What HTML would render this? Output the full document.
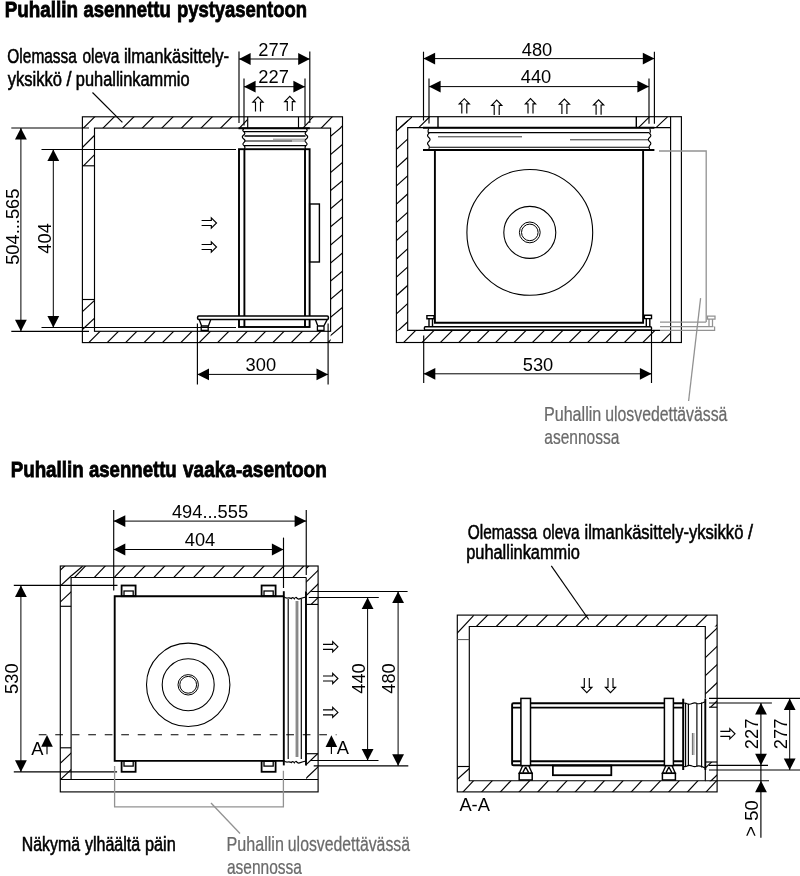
<!DOCTYPE html>
<html lang="fi"><head><meta charset="utf-8"><title>Puhallin asennus</title>
<style>
html,body{margin:0;padding:0;background:#fff;}
svg{display:block;font-family:"Liberation Sans",sans-serif;will-change:transform;}
</style></head><body>
<svg width="800" height="876" viewBox="0 0 800 876">
<rect x="0" y="0" width="800" height="876" fill="#fff"/>
<text transform="translate(4.74 16.5) scale(0.8380 1)" font-size="22.5" font-weight="bold" fill="#000" stroke="#000" stroke-width="0.8">Puhallin</text>
<text transform="translate(83.46 16.5) scale(0.8211 1)" font-size="22.5" font-weight="bold" fill="#000" stroke="#000" stroke-width="0.8">asennettu</text>
<text transform="translate(176.88 16.5) scale(0.8204 1)" font-size="22.5" font-weight="bold" fill="#000" stroke="#000" stroke-width="0.8">pystyasentoon</text>
<text transform="translate(10.64 477.2) scale(0.8356 1)" font-size="22.5" font-weight="bold" fill="#000" stroke="#000" stroke-width="0.8">Puhallin</text>
<text transform="translate(88.96 477.2) scale(0.8259 1)" font-size="22.5" font-weight="bold" fill="#000" stroke="#000" stroke-width="0.8">asennettu</text>
<text transform="translate(183.03 477.2) scale(0.8453 1)" font-size="22.5" font-weight="bold" fill="#000" stroke="#000" stroke-width="0.8">vaaka-asentoon</text>
<text transform="translate(7.37 63.1) scale(0.7881 1)" font-size="19.6" font-weight="normal" fill="#000" stroke="#000" stroke-width="0.55">Olemassa</text>
<text transform="translate(82.45 63.1) scale(0.7886 1)" font-size="19.6" font-weight="normal" fill="#000" stroke="#000" stroke-width="0.55">oleva</text>
<text transform="translate(123.89 63.1) scale(0.8485 1)" font-size="19.6" font-weight="normal" fill="#000" stroke="#000" stroke-width="0.55">ilmankäsittely-</text>
<text transform="translate(7.71 85.9) scale(0.8441 1)" font-size="19.6" font-weight="normal" fill="#000" stroke="#000" stroke-width="0.55">yksikkö</text>
<text transform="translate(66.60 85.9) scale(0.9182 1)" font-size="19.6" font-weight="normal" fill="#000" stroke="#000" stroke-width="0.55">/</text>
<text transform="translate(75.84 85.9) scale(0.8360 1)" font-size="19.6" font-weight="normal" fill="#000" stroke="#000" stroke-width="0.55">puhallinkammio</text>
<line x1="92.5" y1="92.5" x2="122.4" y2="122.4" stroke="#000" stroke-width="1.15" />
<rect x="82.4" y="116.8" width="260.1" height="225.8" stroke="#000" stroke-width="1.15" fill="none"/>
<rect x="94.5" y="128.1" width="236.10000000000002" height="203.20000000000002" stroke="#000" stroke-width="1.15" fill="none"/>
<clipPath id="c1"><rect x="82.4" y="116.8" width="157.0" height="11.299999999999997"/></clipPath>
<g clip-path="url(#c1)" stroke="#000" stroke-width="1.15">
<line x1="79.4" y1="132.1" x2="242.4" y2="-30.9"/>
<line x1="79.4" y1="151.7" x2="242.4" y2="-11.3"/>
<line x1="79.4" y1="171.3" x2="242.4" y2="8.3"/>
<line x1="79.4" y1="190.9" x2="242.4" y2="27.9"/>
<line x1="79.4" y1="210.5" x2="242.4" y2="47.5"/>
<line x1="79.4" y1="230.1" x2="242.4" y2="67.1"/>
<line x1="79.4" y1="249.7" x2="242.4" y2="86.7"/>
<line x1="79.4" y1="269.3" x2="242.4" y2="106.3"/>
<line x1="79.4" y1="288.9" x2="242.4" y2="125.9"/>
</g>
<clipPath id="c2"><rect x="309.8" y="116.8" width="32.69999999999999" height="11.299999999999997"/></clipPath>
<g clip-path="url(#c2)" stroke="#000" stroke-width="1.15">
<line x1="306.8" y1="123.3" x2="345.5" y2="83.5"/>
<line x1="306.8" y1="142.9" x2="345.5" y2="103.1"/>
<line x1="306.8" y1="162.5" x2="345.5" y2="122.7"/>
</g>
<clipPath id="c3"><rect x="330.6" y="128.1" width="11.899999999999977" height="214.50000000000003"/></clipPath>
<g clip-path="url(#c3)" stroke="#000" stroke-width="1.15">
<line x1="327.6" y1="138.8" x2="345.5" y2="123.8"/>
<line x1="327.6" y1="156.9" x2="345.5" y2="141.9"/>
<line x1="327.6" y1="175.0" x2="345.5" y2="160.0"/>
<line x1="327.6" y1="193.1" x2="345.5" y2="178.1"/>
<line x1="327.6" y1="211.2" x2="345.5" y2="196.2"/>
<line x1="327.6" y1="229.3" x2="345.5" y2="214.3"/>
<line x1="327.6" y1="247.4" x2="345.5" y2="232.4"/>
<line x1="327.6" y1="265.5" x2="345.5" y2="250.5"/>
<line x1="327.6" y1="283.6" x2="345.5" y2="268.6"/>
<line x1="327.6" y1="301.7" x2="345.5" y2="286.7"/>
<line x1="327.6" y1="319.8" x2="345.5" y2="304.8"/>
<line x1="327.6" y1="337.9" x2="345.5" y2="322.9"/>
<line x1="327.6" y1="356.0" x2="345.5" y2="341.0"/>
</g>
<clipPath id="c4"><rect x="82.4" y="331.3" width="248.20000000000002" height="11.300000000000011"/></clipPath>
<g clip-path="url(#c4)" stroke="#000" stroke-width="1.15">
<line x1="79.4" y1="333.6" x2="333.6" y2="79.4"/>
<line x1="79.4" y1="352.0" x2="333.6" y2="97.8"/>
<line x1="79.4" y1="370.4" x2="333.6" y2="116.2"/>
<line x1="79.4" y1="388.8" x2="333.6" y2="134.6"/>
<line x1="79.4" y1="407.2" x2="333.6" y2="153.0"/>
<line x1="79.4" y1="425.6" x2="333.6" y2="171.4"/>
<line x1="79.4" y1="444.0" x2="333.6" y2="189.8"/>
<line x1="79.4" y1="462.4" x2="333.6" y2="208.2"/>
<line x1="79.4" y1="480.8" x2="333.6" y2="226.6"/>
<line x1="79.4" y1="499.2" x2="333.6" y2="245.0"/>
<line x1="79.4" y1="517.6" x2="333.6" y2="263.4"/>
<line x1="79.4" y1="536.0" x2="333.6" y2="281.8"/>
<line x1="79.4" y1="554.4" x2="333.6" y2="300.2"/>
<line x1="79.4" y1="572.8" x2="333.6" y2="318.6"/>
<line x1="79.4" y1="591.2" x2="333.6" y2="337.0"/>
</g>
<clipPath id="c5"><rect x="82.4" y="128.1" width="12.099999999999994" height="37.70000000000002"/></clipPath>
<g clip-path="url(#c5)" stroke="#000" stroke-width="1.15">
<line x1="79.4" y1="131.1" x2="97.5" y2="113.0"/>
<line x1="79.4" y1="150.5" x2="97.5" y2="132.4"/>
<line x1="79.4" y1="169.9" x2="97.5" y2="151.8"/>
</g>
<line x1="82.4" y1="165.8" x2="94.5" y2="165.8" stroke="#000" stroke-width="1.15" />
<clipPath id="c6"><rect x="82.4" y="299.5" width="12.099999999999994" height="31.80000000000001"/></clipPath>
<g clip-path="url(#c6)" stroke="#000" stroke-width="1.15">
<line x1="79.4" y1="314.4" x2="97.5" y2="297.6"/>
<line x1="79.4" y1="332.3" x2="97.5" y2="315.5"/>
</g>
<line x1="82.4" y1="299.5" x2="94.5" y2="299.5" stroke="#000" stroke-width="1.15" />
<line x1="247.7" y1="116.8" x2="247.7" y2="128.1" stroke="#000" stroke-width="1.15" />
<line x1="298.5" y1="116.8" x2="298.5" y2="128.1" stroke="#000" stroke-width="1.15" />
<line x1="239.4" y1="128.1" x2="247.7" y2="119.3" stroke="#000" stroke-width="1.15" />
<line x1="303" y1="128.1" x2="309.8" y2="120.8" stroke="#000" stroke-width="1.15" />
<line x1="11.3" y1="128" x2="89" y2="128" stroke="#000" stroke-width="1.15" />
<line x1="11.3" y1="331.3" x2="89" y2="331.3" stroke="#000" stroke-width="1.15" />
<line x1="20.9" y1="128" x2="20.9" y2="331.3" stroke="#000" stroke-width="1" />
<polygon points="20.9,128.0 15.0,139.6 26.8,139.6" fill="#000"/>
<polygon points="20.9,331.3 15.0,319.7 26.8,319.7" fill="#000"/>
<line x1="41.5" y1="149.5" x2="236" y2="149.5" stroke="#000" stroke-width="1.15" />
<line x1="41.5" y1="327.5" x2="236" y2="327.5" stroke="#000" stroke-width="1.15" />
<line x1="53.3" y1="149.5" x2="53.3" y2="327.5" stroke="#000" stroke-width="1" />
<polygon points="53.3,149.5 47.4,161.1 59.2,161.1" fill="#000"/>
<polygon points="53.3,327.5 47.4,315.9 59.2,315.9" fill="#000"/>
<text transform="translate(18.8 226.7) rotate(-90)" font-size="18.3" text-anchor="middle" font-weight="normal" fill="#000" letter-spacing="0">504...565</text>
<text transform="translate(50.8 238.4) rotate(-90)" font-size="18.3" text-anchor="middle" font-weight="normal" fill="#000" letter-spacing="0">404</text>
<line x1="239" y1="51.5" x2="239" y2="123" stroke="#000" stroke-width="1.15" />
<line x1="309.8" y1="51.5" x2="309.8" y2="123" stroke="#000" stroke-width="1.15" />
<line x1="239" y1="59" x2="309.8" y2="59" stroke="#000" stroke-width="1" />
<polygon points="239.0,59.0 250.6,53.1 250.6,64.9" fill="#000"/>
<polygon points="309.8,59.0 298.2,53.1 298.2,64.9" fill="#000"/>
<line x1="244" y1="78.4" x2="244" y2="125.6" stroke="#000" stroke-width="1.15" />
<line x1="305" y1="78.4" x2="305" y2="125.6" stroke="#000" stroke-width="1.15" />
<line x1="244" y1="86.7" x2="305" y2="86.7" stroke="#000" stroke-width="1" />
<polygon points="244.0,86.7 255.6,80.8 255.6,92.6" fill="#000"/>
<polygon points="305.0,86.7 293.4,80.8 293.4,92.6" fill="#000"/>
<text transform="translate(273.6 55.8)" font-size="18.3" text-anchor="middle" font-weight="normal" fill="#000" letter-spacing="0">277</text>
<text transform="translate(273.6 83.4)" font-size="18.3" text-anchor="middle" font-weight="normal" fill="#000" letter-spacing="0">227</text>
<path d="M255.5,111.5 V102.10000000000001 H252.9 L258,96.9 L263.1,102.10000000000001 H260.5 V111.5" stroke="#000" stroke-width="1.15" fill="none" />
<path d="M287.3,111 V101.60000000000001 H284.7 L289.8,96.4 L294.90000000000003,101.60000000000001 H292.3 V111" stroke="#000" stroke-width="1.15" fill="none" />
<path d="M243.8,128.8 q-2,1.4 0,2.8 q2.2,1.8 -0.4,3.6 q-2.4,1.8 0.4,3.8 q2.4,1.8 0,3.6 q-2,1.6 0.6,3.4 q1,1.2 0,3 M306.2,128.8 q2,1.4 0,2.8 q-2.2,1.8 0.4,3.6 q2.4,1.8 -0.4,3.8 q-2.4,1.8 0,3.6 q2,1.6 -0.6,3.4 q-1,1.2 0,3" stroke="#000" stroke-width="1.2" fill="none" />
<line x1="238.5" y1="128.2" x2="309.8" y2="128.2" stroke="#000" stroke-width="1.9" />
<line x1="243.5" y1="131.6" x2="306.5" y2="131.6" stroke="#000" stroke-width="1.15" />
<line x1="244.5" y1="136" x2="305.5" y2="136" stroke="#000" stroke-width="1.4" />
<line x1="244.5" y1="141" x2="292" y2="141" stroke="#000" stroke-width="1.2" />
<line x1="292" y1="141" x2="305.5" y2="141" stroke="#777" stroke-width="1.0" />
<line x1="244" y1="145.6" x2="306" y2="145.6" stroke="#000" stroke-width="1.15" />
<line x1="273" y1="139.2" x2="305" y2="139.2" stroke="#888" stroke-width="1.0" />
<rect x="239" y="149.2" width="70.60000000000002" height="177.8" stroke="#000" stroke-width="1.9" fill="none"/>
<line x1="244.4" y1="149.2" x2="244.4" y2="327" stroke="#000" stroke-width="1.9" />
<line x1="305" y1="149.2" x2="305" y2="327" stroke="#000" stroke-width="1.9" />
<rect x="309.6" y="204" width="9.799999999999955" height="58" stroke="#000" stroke-width="1.4" fill="none"/>
<rect x="197.6" y="316" width="130.8" height="3.4" rx="1.2" stroke="#000" stroke-width="1.5" fill="#fff"/>
<path d="M199.2,319.6 L201.6,326 H208.4 L210.8,319.6 M201.2,326 V330.4 H208.2 V326" stroke="#000" stroke-width="1.3" fill="none" />
<path d="M315.4,319.6 L317.8,326 H323.8 L327.2,319.6 M317.4,326 V330.4 H324 V326" stroke="#000" stroke-width="1.3" fill="none" />
<line x1="328.1" y1="323.4" x2="328.1" y2="384.6" stroke="#000" stroke-width="1.15" />
<line x1="197.4" y1="323.4" x2="197.4" y2="384.6" stroke="#000" stroke-width="1.15" />
<line x1="197.4" y1="374.4" x2="328.1" y2="374.4" stroke="#000" stroke-width="1" />
<polygon points="197.4,374.4 209.0,368.5 209.0,380.3" fill="#000"/>
<polygon points="328.1,374.4 316.5,368.5 316.5,380.3" fill="#000"/>
<text transform="translate(260.8 371.3)" font-size="18.3" text-anchor="middle" font-weight="normal" fill="#000" letter-spacing="0">300</text>
<path d="M201.6,220.5 H211.3 V217.9 L216.5,223 L211.3,228.1 V225.5 H201.6" stroke="#000" stroke-width="1.15" fill="none" stroke-linejoin="miter"/>
<path d="M201.6,244.5 H211.3 V241.9 L216.5,247 L211.3,252.1 V249.5 H201.6" stroke="#000" stroke-width="1.15" fill="none" stroke-linejoin="miter"/>
<rect x="396.4" y="116.7" width="285.0" height="225.8" stroke="#000" stroke-width="1.15" fill="none"/>
<path d="M660,330.3 H407.7 V127.6 H670.6 M670.6,116.7 V342.5" stroke="#000" stroke-width="1.15" fill="none" />
<clipPath id="c7"><rect x="396.4" y="117.0" width="11.300000000000011" height="213.3"/></clipPath>
<g clip-path="url(#c7)" stroke="#000" stroke-width="1.15">
<line x1="393.4" y1="115.4" x2="410.7" y2="99.8"/>
<line x1="393.4" y1="133.7" x2="410.7" y2="118.1"/>
<line x1="393.4" y1="152.0" x2="410.7" y2="136.4"/>
<line x1="393.4" y1="170.3" x2="410.7" y2="154.7"/>
<line x1="393.4" y1="188.5" x2="410.7" y2="173.0"/>
<line x1="393.4" y1="206.8" x2="410.7" y2="191.2"/>
<line x1="393.4" y1="225.1" x2="410.7" y2="209.5"/>
<line x1="393.4" y1="243.4" x2="410.7" y2="227.8"/>
<line x1="393.4" y1="261.7" x2="410.7" y2="246.1"/>
<line x1="393.4" y1="279.9" x2="410.7" y2="264.4"/>
<line x1="393.4" y1="298.2" x2="410.7" y2="282.7"/>
<line x1="393.4" y1="316.5" x2="410.7" y2="300.9"/>
<line x1="393.4" y1="334.8" x2="410.7" y2="319.2"/>
</g>
<clipPath id="c8"><rect x="396.4" y="116.7" width="15.600000000000023" height="10.899999999999991"/></clipPath>
<g clip-path="url(#c8)" stroke="#000" stroke-width="1.15">
<line x1="393.4" y1="115.4" x2="415.0" y2="96.0"/>
<line x1="393.4" y1="133.7" x2="415.0" y2="114.3"/>
</g>
<clipPath id="c9"><rect x="396.4" y="330.3" width="274.20000000000005" height="12.199999999999989"/></clipPath>
<g clip-path="url(#c9)" stroke="#000" stroke-width="1.15">
<line x1="393.4" y1="334.3" x2="673.6" y2="54.1"/>
<line x1="393.4" y1="352.7" x2="673.6" y2="72.5"/>
<line x1="393.4" y1="371.1" x2="673.6" y2="90.9"/>
<line x1="393.4" y1="389.5" x2="673.6" y2="109.3"/>
<line x1="393.4" y1="407.9" x2="673.6" y2="127.7"/>
<line x1="393.4" y1="426.3" x2="673.6" y2="146.1"/>
<line x1="393.4" y1="444.7" x2="673.6" y2="164.5"/>
<line x1="393.4" y1="463.1" x2="673.6" y2="182.9"/>
<line x1="393.4" y1="481.5" x2="673.6" y2="201.3"/>
<line x1="393.4" y1="499.9" x2="673.6" y2="219.7"/>
<line x1="393.4" y1="518.3" x2="673.6" y2="238.1"/>
<line x1="393.4" y1="536.7" x2="673.6" y2="256.5"/>
<line x1="393.4" y1="555.1" x2="673.6" y2="274.9"/>
<line x1="393.4" y1="573.5" x2="673.6" y2="293.3"/>
<line x1="393.4" y1="591.9" x2="673.6" y2="311.7"/>
<line x1="393.4" y1="610.3" x2="673.6" y2="330.1"/>
</g>
<line x1="438" y1="116.7" x2="438" y2="127.6" stroke="#000" stroke-width="1.4" />
<line x1="636.3" y1="116.7" x2="636.3" y2="127.6" stroke="#000" stroke-width="1.4" />
<line x1="419" y1="127.3" x2="429.5" y2="117" stroke="#000" stroke-width="1.15" />
<line x1="638.8" y1="127.3" x2="649.4" y2="116.9" stroke="#000" stroke-width="1.15" />
<line x1="656.3" y1="127.3" x2="667.5" y2="116.9" stroke="#000" stroke-width="1.15" />
<line x1="423.5" y1="51.7" x2="423.5" y2="120.5" stroke="#000" stroke-width="1.15" />
<line x1="654.4" y1="51.7" x2="654.4" y2="123.8" stroke="#000" stroke-width="1.15" />
<line x1="423.5" y1="58.6" x2="654.4" y2="58.6" stroke="#000" stroke-width="1" />
<polygon points="423.5,58.6 435.1,52.7 435.1,64.5" fill="#000"/>
<polygon points="654.4,58.6 642.8,52.7 642.8,64.5" fill="#000"/>
<line x1="429" y1="78.4" x2="429" y2="123.5" stroke="#000" stroke-width="1.15" />
<line x1="649" y1="78.4" x2="649" y2="123.8" stroke="#000" stroke-width="1.15" />
<line x1="429" y1="86.6" x2="649" y2="86.6" stroke="#000" stroke-width="1" />
<polygon points="429.0,86.6 440.6,80.7 440.6,92.5" fill="#000"/>
<polygon points="649.0,86.6 637.4,80.7 637.4,92.5" fill="#000"/>
<text transform="translate(537 55.5)" font-size="18.3" text-anchor="middle" font-weight="normal" fill="#000" letter-spacing="0">480</text>
<text transform="translate(536 83.2)" font-size="18.3" text-anchor="middle" font-weight="normal" fill="#000" letter-spacing="0">440</text>
<path d="M461.8,113.6 V103.89999999999999 H459.2 L464.3,98.69999999999999 L469.40000000000003,103.89999999999999 H466.8 V113.6" stroke="#000" stroke-width="1.15" fill="none" />
<path d="M494.2,115 V105.3 H491.59999999999997 L496.7,100.1 L501.8,105.3 H499.2 V115" stroke="#000" stroke-width="1.15" fill="none" />
<path d="M528.0,113.5 V103.8 H525.4 L530.5,98.6 L535.6,103.8 H533.0 V113.5" stroke="#000" stroke-width="1.15" fill="none" />
<path d="M561.9,113.9 V104.2 H559.3 L564.4,99.0 L569.5,104.2 H566.9 V113.9" stroke="#000" stroke-width="1.15" fill="none" />
<path d="M596.1,114.7 V105.0 H593.5 L598.6,99.8 L603.7,105.0 H601.1 V114.7" stroke="#000" stroke-width="1.15" fill="none" />
<line x1="423" y1="127.8" x2="654.4" y2="127.8" stroke="#000" stroke-width="1.9" />
<line x1="428.5" y1="132.6" x2="649" y2="132.6" stroke="#000" stroke-width="1.15" />
<line x1="429.5" y1="147.2" x2="649" y2="147.2" stroke="#000" stroke-width="1.15" />
<line x1="438" y1="136.8" x2="522" y2="136.8" stroke="#333" stroke-width="1" />
<line x1="570" y1="139.8" x2="648" y2="139.8" stroke="#333" stroke-width="1" />
<path d="M428.8,128.5 q-1.5,2.5 0,5 q-2.5,2 0,4 q2.5,2 0,4 q-2.5,2 0,4 q1,1.5 0,3.5 M649.6,128.5 q1.5,2.5 0,5 q2.5,2 0,4 q-2.5,2 0,4 q2.5,2 0,4 q-1,1.5 0,3.5" stroke="#000" stroke-width="1.15" fill="none" />
<line x1="423" y1="149.9" x2="654.4" y2="149.9" stroke="#000" stroke-width="2" />
<path d="M434.9,150 V322.8 H643.1 V150" stroke="#000" stroke-width="1.9" fill="none" />
<rect x="424.4" y="326.7" width="227.1" height="3.2" rx="1" stroke="#000" stroke-width="1.4" fill="#fff"/>
<path d="M426.9,315.6 H434 V318.8 H426.9 Z M429,318.8 V326.3 M432.5,318.8 V326.3" stroke="#000" stroke-width="1.4" fill="none" />
<path d="M644.4,315.3 H651.5 V318.6 H644.4 Z M646.3,318.6 V326.3 M649.8,318.6 V326.3" stroke="#000" stroke-width="1.4" fill="none" />
<circle cx="529.8" cy="232.4" r="62.9" stroke="#000" stroke-width="1.1" fill="none"/>
<circle cx="529.8" cy="232.4" r="26.0" stroke="#000" stroke-width="1.1" fill="none"/>
<circle cx="529.8" cy="232.4" r="10.4" stroke="#000" stroke-width="1.0" fill="none"/>
<circle cx="529.8" cy="232.4" r="8.3" stroke="#000" stroke-width="1.0" fill="none"/>
<line x1="423.7" y1="335.6" x2="423.7" y2="383" stroke="#000" stroke-width="1.15" />
<line x1="651.5" y1="331" x2="651.5" y2="383" stroke="#000" stroke-width="1.15" />
<line x1="423.7" y1="373.8" x2="651.5" y2="373.8" stroke="#000" stroke-width="1" />
<polygon points="423.7,373.8 435.3,367.9 435.3,379.7" fill="#000"/>
<polygon points="651.5,373.8 639.9,367.9 639.9,379.7" fill="#000"/>
<text transform="translate(538 370.5)" font-size="18.3" text-anchor="middle" font-weight="normal" fill="#000" letter-spacing="0">530</text>
<path d="M659,151 H706.2 V322" stroke="#929292" stroke-width="1.3" fill="none" />
<path d="M660,322.1 H706.2 M660,326.6 H713.5 M660,330.3 H714.6 V326.6 M707.5,316 H715 V319.2 H707.5 Z M709,319.2 V326.4 M712.5,319.2 V326.4" stroke="#929292" stroke-width="1.25" fill="none" />
<line x1="700.6" y1="298.1" x2="688.6" y2="401" stroke="#929292" stroke-width="1.3" />
<text transform="translate(543.93 421.0) scale(0.8226 1)" font-size="19.6" font-weight="normal" fill="#6a6a6a" stroke="#6a6a6a" stroke-width="0.25">Puhallin</text>
<text transform="translate(605.22 421.0) scale(0.8074 1)" font-size="19.6" font-weight="normal" fill="#6a6a6a" stroke="#6a6a6a" stroke-width="0.25">ulosvedettävässä</text>
<text transform="translate(544.34 443.5) scale(0.7917 1)" font-size="19.6" font-weight="normal" fill="#6a6a6a" stroke="#6a6a6a" stroke-width="0.25">asennossa</text>
<rect x="60.3" y="566" width="257.8" height="225.89999999999998" stroke="#000" stroke-width="1.15" fill="none"/>
<path d="M71.1,779.5 V577.5 H306.2 M60.3,779.5 H318.1" stroke="#000" stroke-width="1.15" fill="none" />
<clipPath id="c10"><rect x="71.1" y="566" width="235.1" height="11.5"/></clipPath>
<g clip-path="url(#c10)" stroke="#000" stroke-width="1.15">
<line x1="68.1" y1="584.2" x2="309.2" y2="331.0"/>
<line x1="68.1" y1="605.0" x2="309.2" y2="351.9"/>
<line x1="68.1" y1="625.9" x2="309.2" y2="372.7"/>
<line x1="68.1" y1="646.7" x2="309.2" y2="393.5"/>
<line x1="68.1" y1="667.5" x2="309.2" y2="414.4"/>
<line x1="68.1" y1="688.4" x2="309.2" y2="435.2"/>
<line x1="68.1" y1="709.2" x2="309.2" y2="456.1"/>
<line x1="68.1" y1="730.1" x2="309.2" y2="476.9"/>
<line x1="68.1" y1="750.9" x2="309.2" y2="497.8"/>
<line x1="68.1" y1="771.8" x2="309.2" y2="518.6"/>
<line x1="68.1" y1="792.6" x2="309.2" y2="539.4"/>
<line x1="68.1" y1="813.4" x2="309.2" y2="560.3"/>
</g>
<clipPath id="c11"><rect x="60.3" y="566" width="10.799999999999997" height="40.299999999999955"/></clipPath>
<g clip-path="url(#c11)" stroke="#000" stroke-width="1.15">
<line x1="57.3" y1="572.9" x2="74.1" y2="557.3"/>
<line x1="57.3" y1="588.8" x2="74.1" y2="573.2"/>
<line x1="57.3" y1="604.7" x2="74.1" y2="589.1"/>
<line x1="57.3" y1="620.6" x2="74.1" y2="605.0"/>
</g>
<line x1="60.3" y1="606.3" x2="71.1" y2="606.3" stroke="#000" stroke-width="1.15" />
<line x1="71.1" y1="576" x2="82.6" y2="566.2" stroke="#000" stroke-width="1.15" />
<clipPath id="c12"><rect x="60.3" y="747.8" width="10.799999999999997" height="31.700000000000045"/></clipPath>
<g clip-path="url(#c12)" stroke="#000" stroke-width="1.15">
<line x1="57.3" y1="749.6" x2="74.1" y2="733.8"/>
<line x1="57.3" y1="766.1" x2="74.1" y2="750.3"/>
<line x1="57.3" y1="782.5" x2="74.1" y2="766.7"/>
</g>
<line x1="60.3" y1="747.8" x2="71.1" y2="747.8" stroke="#000" stroke-width="1.15" />
<clipPath id="c13"><rect x="306.2" y="566" width="11.900000000000034" height="38.39999999999998"/></clipPath>
<g clip-path="url(#c13)" stroke="#000" stroke-width="1.15">
<line x1="303.2" y1="571.3" x2="321.1" y2="553.9"/>
<line x1="303.2" y1="584.9" x2="321.1" y2="567.5"/>
<line x1="303.2" y1="598.5" x2="321.1" y2="581.1"/>
<line x1="303.2" y1="612.1" x2="321.1" y2="594.7"/>
</g>
<line x1="306.2" y1="604.4" x2="318.1" y2="604.4" stroke="#000" stroke-width="1.15" />
<clipPath id="c14"><rect x="306.2" y="753.7" width="11.900000000000034" height="25.799999999999955"/></clipPath>
<g clip-path="url(#c14)" stroke="#000" stroke-width="1.15">
<line x1="303.2" y1="753.8" x2="321.1" y2="736.8"/>
<line x1="303.2" y1="767.4" x2="321.1" y2="750.4"/>
<line x1="303.2" y1="781.0" x2="321.1" y2="764.0"/>
<line x1="303.2" y1="794.6" x2="321.1" y2="777.6"/>
</g>
<line x1="306.2" y1="753.7" x2="318.1" y2="753.7" stroke="#000" stroke-width="1.15" />
<line x1="306.2" y1="577.5" x2="306.2" y2="591" stroke="#000" stroke-width="1.15" />
<line x1="113.7" y1="510" x2="113.7" y2="590.6" stroke="#000" stroke-width="1.15" />
<line x1="306.25" y1="510" x2="306.25" y2="575" stroke="#000" stroke-width="1.15" />
<line x1="283.5" y1="537.6" x2="283.5" y2="588" stroke="#000" stroke-width="1.15" />
<line x1="113.7" y1="521.1" x2="306.25" y2="521.1" stroke="#000" stroke-width="1" />
<polygon points="113.7,521.1 125.3,515.2 125.3,527.0" fill="#000"/>
<polygon points="306.2,521.1 294.6,515.2 294.6,527.0" fill="#000"/>
<line x1="113.7" y1="549.5" x2="283.5" y2="549.5" stroke="#000" stroke-width="1" />
<polygon points="113.7,549.5 125.3,543.6 125.3,555.4" fill="#000"/>
<polygon points="283.5,549.5 271.9,543.6 271.9,555.4" fill="#000"/>
<text transform="translate(210 518)" font-size="18.3" text-anchor="middle" font-weight="normal" fill="#000" letter-spacing="0">494...555</text>
<text transform="translate(200 546.3)" font-size="18.3" text-anchor="middle" font-weight="normal" fill="#000" letter-spacing="0">404</text>
<path d="M283.6,596.25 H114.7 V760.9 H283.6" stroke="#000" stroke-width="1.9" fill="none" />
<rect x="121.6" y="585.5" width="14.0" height="10.700000000000045" stroke="#000" stroke-width="1.8" fill="none"/>
<rect x="124.0" y="591" width="9.199999999999989" height="5.2000000000000455" stroke="#000" stroke-width="1.3" fill="none"/>
<rect x="121.6" y="760.9" width="14.0" height="10.899999999999977" stroke="#000" stroke-width="1.8" fill="none"/>
<rect x="124.0" y="760.9" width="9.199999999999989" height="5.2000000000000455" stroke="#000" stroke-width="1.3" fill="none"/>
<rect x="261.6" y="585.5" width="14.0" height="10.700000000000045" stroke="#000" stroke-width="1.8" fill="none"/>
<rect x="264.0" y="591" width="9.200000000000045" height="5.2000000000000455" stroke="#000" stroke-width="1.3" fill="none"/>
<rect x="261.6" y="760.9" width="14.0" height="10.899999999999977" stroke="#000" stroke-width="1.8" fill="none"/>
<rect x="264.0" y="760.9" width="9.200000000000045" height="5.2000000000000455" stroke="#000" stroke-width="1.3" fill="none"/>
<circle cx="188.2" cy="684.8" r="41.7" stroke="#000" stroke-width="1.1" fill="none"/>
<circle cx="188.2" cy="684.8" r="26.0" stroke="#000" stroke-width="1.1" fill="none"/>
<circle cx="188.2" cy="684.8" r="10.2" stroke="#000" stroke-width="1.0" fill="none"/>
<circle cx="188.2" cy="684.8" r="8.4" stroke="#000" stroke-width="1.0" fill="none"/>
<line x1="283.8" y1="591.2" x2="283.8" y2="765.4" stroke="#000" stroke-width="1.9" />
<line x1="306.0" y1="591.2" x2="306.0" y2="765.4" stroke="#000" stroke-width="1.9" />
<line x1="288.2" y1="599" x2="288.2" y2="759" stroke="#000" stroke-width="1.15" />
<line x1="296.2" y1="601" x2="296.2" y2="757" stroke="#444" stroke-width="0.9" />
<line x1="297.8" y1="601" x2="297.8" y2="757" stroke="#444" stroke-width="0.9" />
<line x1="301.3" y1="599" x2="301.3" y2="759" stroke="#000" stroke-width="1.15" />
<path d="M283.8,596.6 q2,1.8 4,1.4 q2,-0.4 3.5,0.6 q1.5,-2 3,0.2 q1.5,-2.6 3,-0.2 q1.5,1 3,0 q2.5,-0.8 5.7,-1.6" stroke="#000" stroke-width="1.15" fill="none" />
<path d="M283.8,760.6 q2,1.8 4,1.4 q2,-0.4 3.5,0.6 q1.5,-2 3,0.2 q1.5,-2.6 3,-0.2 q1.5,1 3,0 q2.5,-0.8 5.7,-1.6" stroke="#000" stroke-width="1.15" fill="none" />
<line x1="311.2" y1="591.5" x2="407.6" y2="591.5" stroke="#000" stroke-width="1.15" />
<line x1="308.8" y1="597.5" x2="378.8" y2="597.5" stroke="#000" stroke-width="1.15" />
<line x1="310.5" y1="760.5" x2="378.5" y2="760.5" stroke="#000" stroke-width="1.15" />
<line x1="313.7" y1="765.8" x2="408.3" y2="765.8" stroke="#000" stroke-width="1.15" />
<line x1="367.6" y1="597.5" x2="367.6" y2="760.5" stroke="#000" stroke-width="1" />
<polygon points="367.6,597.5 361.7,609.1 373.5,609.1" fill="#000"/>
<polygon points="367.6,760.5 361.7,748.9 373.5,748.9" fill="#000"/>
<line x1="398.1" y1="591.5" x2="398.1" y2="765.8" stroke="#000" stroke-width="1" />
<polygon points="398.1,591.5 392.2,603.1 404.0,603.1" fill="#000"/>
<polygon points="398.1,765.8 392.2,754.2 404.0,754.2" fill="#000"/>
<text transform="translate(364.5 678.5) rotate(-90)" font-size="18.3" text-anchor="middle" font-weight="normal" fill="#000" letter-spacing="0">440</text>
<text transform="translate(394.7 678.5) rotate(-90)" font-size="18.3" text-anchor="middle" font-weight="normal" fill="#000" letter-spacing="0">480</text>
<path d="M323,644.3 H332.7 V641.6999999999999 L337.9,646.8 L332.7,651.9 V649.3 H323" stroke="#000" stroke-width="1.15" fill="none" stroke-linejoin="miter"/>
<path d="M323,676.0 H332.7 V673.4 L337.9,678.5 L332.7,683.6 V681.0 H323" stroke="#000" stroke-width="1.15" fill="none" stroke-linejoin="miter"/>
<path d="M323,709.9 H332.7 V707.3 L337.9,712.4 L332.7,717.5 V714.9 H323" stroke="#000" stroke-width="1.15" fill="none" stroke-linejoin="miter"/>
<line x1="38.75" y1="734.7" x2="336.5" y2="734.7" stroke="#000" stroke-width="1.15" stroke-dasharray="7.7 8.8"/>
<line x1="47" y1="740" x2="47" y2="754.3" stroke="#000" stroke-width="1.15" />
<polygon points="47.0,735.1 41.2,746.7 52.8,746.7" fill="#000"/>
<line x1="331.4" y1="740" x2="331.4" y2="753.9" stroke="#000" stroke-width="1.15" />
<polygon points="331.4,735.3 325.6,746.9 337.2,746.9" fill="#000"/>
<text transform="translate(31.3 754.7)" font-size="18.3" text-anchor="start" font-weight="normal" fill="#000" letter-spacing="0">A</text>
<text transform="translate(336.7 754.2)" font-size="18.3" text-anchor="start" font-weight="normal" fill="#000" letter-spacing="0">A</text>
<line x1="13.8" y1="585.4" x2="117.5" y2="585.4" stroke="#000" stroke-width="1.15" />
<line x1="13.8" y1="771.9" x2="117.1" y2="771.9" stroke="#000" stroke-width="1.15" />
<line x1="20.9" y1="585.4" x2="20.9" y2="771.9" stroke="#000" stroke-width="1" />
<polygon points="20.9,585.4 15.0,597.0 26.8,597.0" fill="#000"/>
<polygon points="20.9,771.9 15.0,760.3 26.8,760.3" fill="#000"/>
<text transform="translate(17.9 678.7) rotate(-90)" font-size="18.3" text-anchor="middle" font-weight="normal" fill="#000" letter-spacing="0">530</text>
<path d="M114.6,766.1 V806.9 H283.4 V770.7" stroke="#929292" stroke-width="1.3" fill="none" />
<line x1="211" y1="803" x2="240" y2="833.5" stroke="#929292" stroke-width="1.3" />
<text transform="translate(226.53 851.2) scale(0.8226 1)" font-size="19.6" font-weight="normal" fill="#6a6a6a" stroke="#6a6a6a" stroke-width="0.25">Puhallin</text>
<text transform="translate(287.82 851.2) scale(0.8074 1)" font-size="19.6" font-weight="normal" fill="#6a6a6a" stroke="#6a6a6a" stroke-width="0.25">ulosvedettävässä</text>
<text transform="translate(226.94 873.7) scale(0.7917 1)" font-size="19.6" font-weight="normal" fill="#6a6a6a" stroke="#6a6a6a" stroke-width="0.25">asennossa</text>
<text transform="translate(21.80 850.7) scale(0.8097 1)" font-size="19.6" font-weight="normal" fill="#000" stroke="#000" stroke-width="0.55">Näkymä</text>
<text transform="translate(84.96 850.7) scale(0.8184 1)" font-size="19.6" font-weight="normal" fill="#000" stroke="#000" stroke-width="0.55">ylhäältä</text>
<text transform="translate(144.95 850.7) scale(0.8328 1)" font-size="19.6" font-weight="normal" fill="#000" stroke="#000" stroke-width="0.55">päin</text>
<text transform="translate(467.77 538.5) scale(0.7869 1)" font-size="19.6" font-weight="normal" fill="#000" stroke="#000" stroke-width="0.55">Olemassa</text>
<text transform="translate(542.65 538.5) scale(0.7864 1)" font-size="19.6" font-weight="normal" fill="#000" stroke="#000" stroke-width="0.55">oleva</text>
<text transform="translate(584.50 538.5) scale(0.8419 1)" font-size="19.6" font-weight="normal" fill="#000" stroke="#000" stroke-width="0.55">ilmankäsittely-</text>
<text transform="translate(688.96 538.5) scale(0.8480 1)" font-size="19.6" font-weight="normal" fill="#000" stroke="#000" stroke-width="0.55">yksikkö</text>
<text transform="translate(748.10 538.5) scale(0.9182 1)" font-size="19.6" font-weight="normal" fill="#000" stroke="#000" stroke-width="0.55">/</text>
<text transform="translate(466.19 558.7) scale(0.8364 1)" font-size="19.6" font-weight="normal" fill="#000" stroke="#000" stroke-width="0.55">puhallinkammio</text>
<line x1="551.3" y1="565.9" x2="588.7" y2="619.5" stroke="#000" stroke-width="1.15" />
<rect x="457.3" y="615.1" width="259.8" height="176.79999999999995" stroke="#000" stroke-width="1.15" fill="none"/>
<path d="M705.3,698.5 V626.5 H469.3 V780.7 H705.3 V770" stroke="#000" stroke-width="1.15" fill="none" />
<clipPath id="c15"><rect x="469.3" y="615.1" width="247.8" height="11.399999999999977"/></clipPath>
<g clip-path="url(#c15)" stroke="#000" stroke-width="1.15">
<line x1="466.3" y1="616.5" x2="720.1" y2="362.7"/>
<line x1="466.3" y1="636.5" x2="720.1" y2="382.7"/>
<line x1="466.3" y1="656.4" x2="720.1" y2="402.6"/>
<line x1="466.3" y1="676.4" x2="720.1" y2="422.6"/>
<line x1="466.3" y1="696.3" x2="720.1" y2="442.5"/>
<line x1="466.3" y1="716.2" x2="720.1" y2="462.4"/>
<line x1="466.3" y1="736.2" x2="720.1" y2="482.4"/>
<line x1="466.3" y1="756.2" x2="720.1" y2="502.4"/>
<line x1="466.3" y1="776.1" x2="720.1" y2="522.3"/>
<line x1="466.3" y1="796.1" x2="720.1" y2="542.2"/>
<line x1="466.3" y1="816.0" x2="720.1" y2="562.2"/>
<line x1="466.3" y1="836.0" x2="720.1" y2="582.2"/>
<line x1="466.3" y1="855.9" x2="720.1" y2="602.1"/>
<line x1="466.3" y1="875.9" x2="720.1" y2="622.0"/>
</g>
<clipPath id="c16"><rect x="457.3" y="615.1" width="16.5" height="18.899999999999977"/></clipPath>
<g clip-path="url(#c16)" stroke="#000" stroke-width="1.15">
<line x1="454.3" y1="636.3" x2="476.8" y2="612.2"/>
</g>
<clipPath id="c17"><rect x="457.3" y="780.7" width="259.8" height="11.199999999999932"/></clipPath>
<g clip-path="url(#c17)" stroke="#000" stroke-width="1.15">
<line x1="454.3" y1="781.3" x2="720.1" y2="496.9"/>
<line x1="454.3" y1="801.3" x2="720.1" y2="516.9"/>
<line x1="454.3" y1="821.3" x2="720.1" y2="536.9"/>
<line x1="454.3" y1="841.3" x2="720.1" y2="556.9"/>
<line x1="454.3" y1="861.3" x2="720.1" y2="576.9"/>
<line x1="454.3" y1="881.3" x2="720.1" y2="596.9"/>
<line x1="454.3" y1="901.3" x2="720.1" y2="616.9"/>
<line x1="454.3" y1="921.3" x2="720.1" y2="636.9"/>
<line x1="454.3" y1="941.3" x2="720.1" y2="656.9"/>
<line x1="454.3" y1="961.3" x2="720.1" y2="676.9"/>
<line x1="454.3" y1="981.3" x2="720.1" y2="696.9"/>
<line x1="454.3" y1="1001.4" x2="720.1" y2="717.0"/>
<line x1="454.3" y1="1021.4" x2="720.1" y2="737.0"/>
<line x1="454.3" y1="1041.4" x2="720.1" y2="757.0"/>
<line x1="454.3" y1="1061.4" x2="720.1" y2="777.0"/>
</g>
<line x1="457.3" y1="639.6" x2="469.3" y2="639.6" stroke="#555" stroke-width="1" />
<clipPath id="c18"><rect x="457.3" y="766.5" width="12.0" height="14.200000000000045"/></clipPath>
<g clip-path="url(#c18)" stroke="#000" stroke-width="1.15">
<line x1="454.3" y1="782.0" x2="472.3" y2="765.8"/>
</g>
<line x1="457.3" y1="766.5" x2="469.3" y2="766.5" stroke="#000" stroke-width="1.15" />
<clipPath id="c19"><rect x="705.3" y="626.5" width="11.800000000000068" height="80.70000000000005"/></clipPath>
<g clip-path="url(#c19)" stroke="#000" stroke-width="1.15">
<line x1="702.3" y1="642.2" x2="720.1" y2="625.3"/>
<line x1="702.3" y1="660.5" x2="720.1" y2="643.5"/>
<line x1="702.3" y1="678.6" x2="720.1" y2="661.7"/>
<line x1="702.3" y1="696.9" x2="720.1" y2="679.9"/>
<line x1="702.3" y1="715.1" x2="720.1" y2="698.1"/>
</g>
<line x1="709" y1="707.2" x2="717.1" y2="707.2" stroke="#000" stroke-width="1.15" />
<clipPath id="c20"><rect x="705.3" y="762" width="11.800000000000068" height="19.200000000000045"/></clipPath>
<g clip-path="url(#c20)" stroke="#000" stroke-width="1.15">
<line x1="702.3" y1="770.9" x2="720.1" y2="753.9"/>
<line x1="702.3" y1="789.1" x2="720.1" y2="772.1"/>
</g>
<line x1="706" y1="762" x2="717.1" y2="762" stroke="#000" stroke-width="1.15" />
<path d="M683,703.2 H513.5 Q512.1,703.2 512.1,704.6 V763.9 Q512.1,765.3 513.5,765.3 H683 M512.1,707.6 H683 M512.1,761.2 H683" stroke="#000" stroke-width="1.9" fill="none" />
<line x1="683.2" y1="698.7" x2="683.2" y2="770" stroke="#000" stroke-width="2" />
<line x1="705.3" y1="698.7" x2="705.3" y2="770" stroke="#000" stroke-width="1.9" />
<rect x="520.9" y="698.4" width="9.600000000000023" height="67.20000000000005" stroke="#000" stroke-width="1.5" fill="#fff"/>
<path d="M522.4999999999999,766 L519.3,773.3 H532.0999999999999 L528.9,766 M525.6999999999999,767 L522.9,772.3 M525.6999999999999,767 L528.4999999999999,772.3" stroke="#000" stroke-width="1.4" fill="none" />
<rect x="519.1999999999999" y="773.3" width="13.0" height="6.7000000000000455" stroke="#000" stroke-width="1.5" fill="none"/>
<rect x="664.4" y="698.4" width="9.0" height="67.20000000000005" stroke="#000" stroke-width="1.5" fill="#fff"/>
<path d="M665.6999999999999,766 L662.5,773.3 H675.3 L672.1,766 M668.9,767 L666.1,772.3 M668.9,767 L671.6999999999999,772.3" stroke="#000" stroke-width="1.4" fill="none" />
<rect x="662.4" y="773.3" width="13.0" height="6.7000000000000455" stroke="#000" stroke-width="1.5" fill="none"/>
<rect x="552.9" y="765.6" width="58.39999999999998" height="9.600000000000023" stroke="#000" stroke-width="1.8" fill="none"/>
<path d="M584.3,678 V687.4 H581.6999999999999 L586.8,692.6 L591.9,687.4 H589.3 V678" stroke="#000" stroke-width="1.15" fill="none" />
<path d="M608.0,678 V687.4 H605.4 L610.5,692.6 L615.6,687.4 H613.0 V678" stroke="#000" stroke-width="1.15" fill="none" />
<path d="M683.2,703.4 q2,-0.9 4,0.3 q2.5,1.1 5,-0.2 q2.5,-1.2 5,0 q3,0.9 7.8,-1.8 M683.2,766.2 q2,0.9 4,-0.3 q2.5,-1.1 5,0.2 q2.5,1.2 5,0 q3,-0.9 7.8,1.8" stroke="#000" stroke-width="1.15" fill="none" />
<line x1="685.6" y1="703" x2="685.6" y2="766.5" stroke="#000" stroke-width="1.15" />
<line x1="688.4" y1="704" x2="688.4" y2="766" stroke="#000" stroke-width="1.15" />
<line x1="696.9" y1="704" x2="696.9" y2="766" stroke="#000" stroke-width="1.15" />
<line x1="701.6" y1="702.5" x2="701.6" y2="767.5" stroke="#000" stroke-width="1.15" />
<line x1="692.4" y1="733" x2="692.4" y2="755" stroke="#555" stroke-width="0.9" />
<line x1="693.9" y1="733" x2="693.9" y2="755" stroke="#777" stroke-width="0.9" />
<line x1="709" y1="703" x2="771.9" y2="703" stroke="#000" stroke-width="1.15" />
<line x1="709" y1="765.3" x2="768" y2="765.3" stroke="#000" stroke-width="1.15" />
<line x1="709" y1="698.4" x2="800" y2="698.4" stroke="#000" stroke-width="1.15" />
<line x1="709" y1="770" x2="800" y2="770" stroke="#000" stroke-width="1.15" />
<line x1="705.3" y1="780.7" x2="769" y2="780.7" stroke="#000" stroke-width="1.15" />
<line x1="760.9" y1="703" x2="760.9" y2="837.8" stroke="#000" stroke-width="1.15" />
<polygon points="761.0,703.0 755.1,714.6 766.9,714.6" fill="#000"/>
<polygon points="761.0,765.3 755.1,753.7 766.9,753.7" fill="#000"/>
<polygon points="761.0,780.7 755.1,792.3 766.9,792.3" fill="#000"/>
<line x1="789.7" y1="698.4" x2="789.7" y2="770" stroke="#000" stroke-width="1" />
<polygon points="789.7,698.4 783.8,710.0 795.6,710.0" fill="#000"/>
<polygon points="789.7,770.0 783.8,758.4 795.6,758.4" fill="#000"/>
<text transform="translate(757.8 733.9) rotate(-90)" font-size="18.3" text-anchor="middle" font-weight="normal" fill="#000" letter-spacing="0">227</text>
<text transform="translate(786.5 733.9) rotate(-90)" font-size="18.3" text-anchor="middle" font-weight="normal" fill="#000" letter-spacing="0">277</text>
<text transform="translate(757.6 810.5) rotate(-90)" font-size="18.3" text-anchor="middle" font-weight="normal" fill="#000" letter-spacing="0">50</text>
<text transform="translate(757.4 831.4) rotate(-90)" font-size="18.3" text-anchor="middle" font-weight="normal" fill="#000" letter-spacing="0">&gt;</text>
<path d="M720.3,731.3 H729.8 V728.6999999999999 L735.0,733.8 L729.8,738.9 V736.3 H720.3" stroke="#000" stroke-width="1.15" fill="none" stroke-linejoin="miter"/>
<text transform="translate(459.4 811.4)" font-size="18.3" text-anchor="start" font-weight="normal" fill="#000" letter-spacing="0">A-A</text>
</svg>
</body></html>
